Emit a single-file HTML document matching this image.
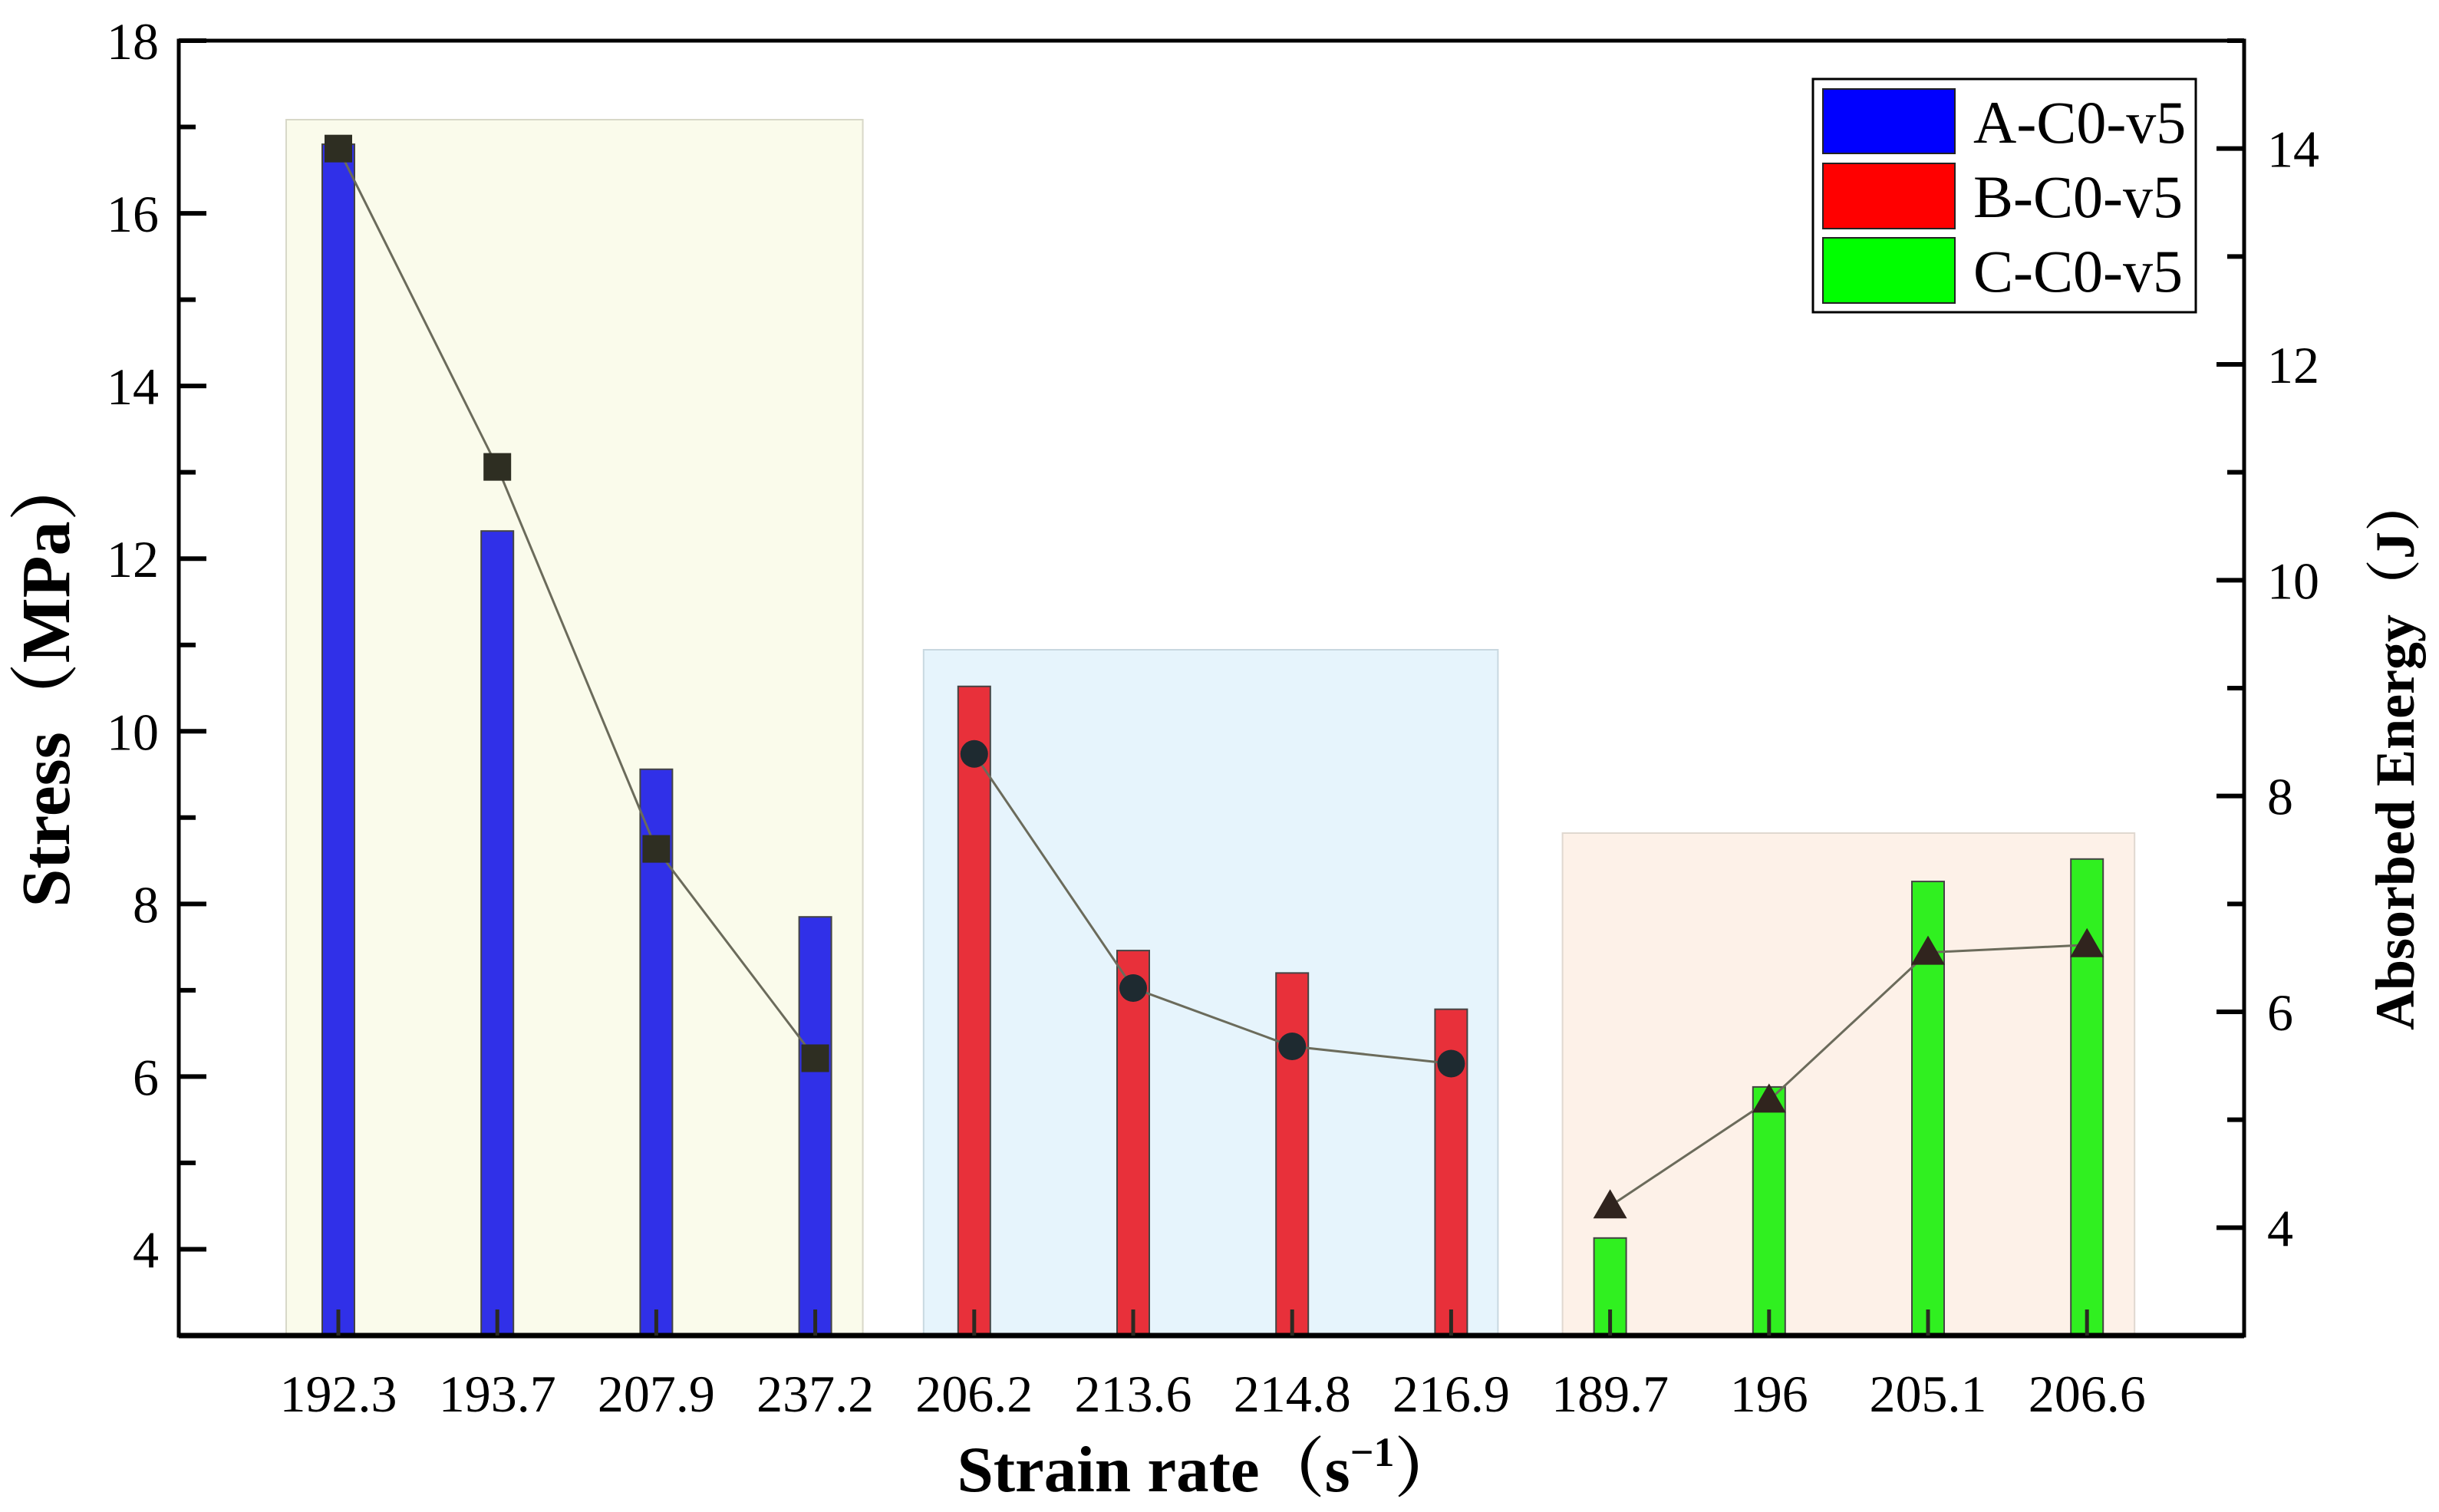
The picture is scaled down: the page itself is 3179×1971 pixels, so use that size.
<!DOCTYPE html>
<html><head><meta charset="utf-8"><style>
html,body{margin:0;padding:0;background:#fff;}
svg{display:block;font-family:"Liberation Serif","Noto Serif CJK SC",serif;}
</style></head><body>
<svg id="chart" width="3179" height="1971" viewBox="0 0 3179 1971" xmlns="http://www.w3.org/2000/svg">
<g id="bgs"></g>
<g id="bars"></g>
<g id="lines"></g>
<g id="axes"></g>
<g id="legend">
  <rect x="2363" y="103" width="499" height="304" fill="#fff" stroke="#000" stroke-width="3"/>
  <rect x="2376" y="116" width="172" height="84" fill="#0000ff" stroke="#222" stroke-width="2"/>
  <rect x="2376" y="213" width="172" height="85" fill="#ff0000" stroke="#222" stroke-width="2"/>
  <rect x="2376" y="310" width="172" height="85" fill="#00ff00" stroke="#222" stroke-width="2"/>
  <text x="2572" y="186" font-size="78">A-C0-v5</text>
  <text x="2572" y="283" font-size="78">B-C0-v5</text>
  <text x="2572" y="380" font-size="78">C-C0-v5</text>
</g>
<text x="1575" y="1944" font-size="85" font-weight="bold" text-anchor="middle">Strain rate（s<tspan font-size="54" dy="-33">−1</tspan><tspan dy="33">）</tspan></text>
<text transform="translate(90,886) rotate(-90)" font-size="90" font-weight="bold" text-anchor="middle">Stress（MPa）</text>
<text transform="translate(3146,982) rotate(-90)" font-size="72" font-weight="bold" text-anchor="middle">Absorbed Energy（J）</text>
</svg>
<script>
const categories = ["192.3","193.7","207.9","237.2","206.2","213.6","214.8","216.9","189.7","196","205.1","206.6"];
const groupA_stress = [16.8, 12.32, 9.56, 7.85];
const groupB_stress = [10.52, 7.46, 7.2, 6.78];
const groupC_stress = [4.13, 5.88, 8.26, 8.52];
const groupA_energy = [14.0, 11.05, 7.51, 5.57];
const groupB_energy = [8.39, 6.22, 5.68, 5.52];
const groupC_energy = [4.2, 5.18, 6.55, 6.62];
const leftTicks = [4,6,8,10,12,14,16,18];
const rightTicks = [4,6,8,10,12,14];

const NS="http://www.w3.org/2000/svg";
const L=233,R=2925,T=53,B=1741;
const yL=v=>B-(v-3)/(18-3)*(B-T);
const yR=v=>B-(v-3)/(15-3)*(B-T);
const x0=441, step=207.2;
const xC=i=>x0+i*step;
function mk(tag,attrs,parent){const e=document.createElementNS(NS,tag);for(const k in attrs)e.setAttribute(k,attrs[k]);parent.appendChild(e);return e;}
const gB=document.getElementById('bgs'),gBar=document.getElementById('bars'),gLn=document.getElementById('lines'),gAx=document.getElementById('axes');

const groups=[
 {s:groupA_stress,e:groupA_energy,start:0,bg:"#fafbeb",bgs:"#d8d8c8",fill:"#3030e8",name:"a",marker:"square"},
 {s:groupB_stress,e:groupB_energy,start:4,bg:"#e6f4fc",bgs:"#c8d8e0",fill:"#e8303a",name:"b",marker:"circle"},
 {s:groupC_stress,e:groupC_energy,start:8,bg:"#fdf1e8",bgs:"#e0d8d0",fill:"#30f020",name:"c",marker:"triangle"}
];
const bgTops=[156,847,1086];
const bgPad=[[68,62],[66,61],[62,62]];
groups.forEach((g,gi)=>{
  const xl=xC(g.start)-bgPad[gi][0], xr=xC(g.start+3)+bgPad[gi][1];
  const r=mk('rect',{x:xl,y:bgTops[gi],width:xr-xl,height:B-bgTops[gi],fill:g.bg,stroke:g.bgs,'stroke-width':2},gB);
  
  
  g.s.forEach((v,i)=>{
    const cx=xC(g.start+i);
    const b=mk('rect',{x:cx-21,y:yL(v),width:42,height:B-yL(v),fill:g.fill,stroke:"#444",'stroke-width':2},gBar);
    
    
  });
  const pts=g.e.map((v,i)=>[xC(g.start+i),yR(v)]);
  const pl=mk('polyline',{points:pts.map(p=>p.join(',')).join(' '),fill:'none',stroke:'#6b6b5b','stroke-width':3},gLn);
  
  
  pts.forEach((p,i)=>{
    let m;
    if(g.marker==='square') m=mk('rect',{x:p[0]-18,y:p[1]-18,width:36,height:36,fill:'#2e2e22'},gLn);
    else if(g.marker==='circle') m=mk('circle',{cx:p[0],cy:p[1],r:18,fill:'#1e2a30'},gLn);
    else m=mk('polygon',{points:`${p[0]},${p[1]-22} ${p[0]-22},${p[1]+16} ${p[0]+22},${p[1]+16}`,fill:'#30241e'},gLn);
    
    
  });
});

const fr=mk('rect',{x:L,y:T,width:R-L,height:B-T,fill:'none',stroke:'#000','stroke-width':5},gAx);


const bx=mk('line',{x1:L,y1:B,x2:R,y2:B,stroke:'#000','stroke-width':7},gAx);



for(let v=3;v<=18;v++){
  const major=leftTicks.includes(v);
  const t=mk('line',{x1:L,y1:yL(v),x2:L+(major?36:22),y2:yL(v),stroke:'#000','stroke-width':6},gAx);
  
  
}
leftTicks.forEach(v=>{
  const t=mk('text',{x:L-26,y:yL(v)+24,'font-size':68,'text-anchor':'end'},gAx);
  t.textContent=v;
  
  
});
for(let v=4;v<=15;v++){
  const major=rightTicks.includes(v);
  const t=mk('line',{x1:R,y1:yR(v),x2:R-(major?36:22),y2:yR(v),stroke:'#000','stroke-width':6},gAx);
  
  
}
rightTicks.forEach(v=>{
  const t=mk('text',{x:R+30,y:yR(v)+24,'font-size':68,'text-anchor':'start'},gAx);
  t.textContent=v;
  
  
});
categories.forEach((c,i)=>{
  const t=mk('line',{x1:xC(i),y1:B,x2:xC(i),y2:B-34,stroke:'#2a2a22','stroke-width':5},gAx);
  
  
  const l=mk('text',{x:xC(i),y:1840,'font-size':68,'text-anchor':'middle'},gAx);
  l.textContent=c;
  
  
});
</script>
</body></html>
